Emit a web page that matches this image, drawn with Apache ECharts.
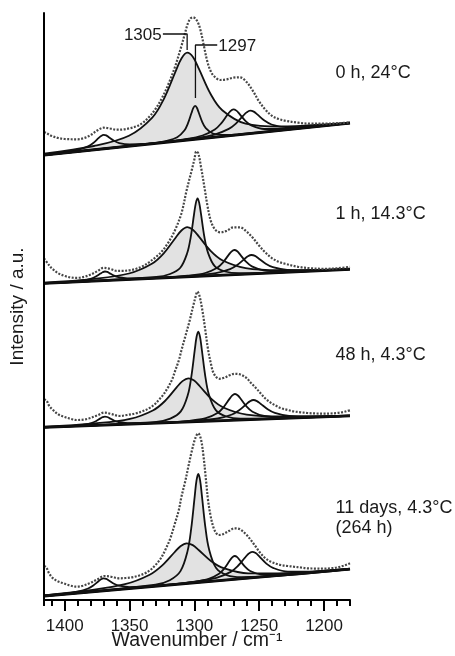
<!DOCTYPE html>
<html><head><meta charset="utf-8">
<script src="https://cdn.jsdelivr.net/npm/echarts@6/dist/echarts.min.js"></script>
<style>html,body{margin:0;padding:0;background:#fff}#c{width:455px;height:656px}</style>
</head><body><div id="c"></div>
<script>
// ---- axis / labels ----
const xMajorTicks = [1200, 1250, 1300, 1350, 1400];
const panelLabels = [['0 h, 24°C'], ['1 h, 14.3°C'], ['48 h, 4.3°C'], ['11 days, 4.3°C', '(264 h)']];
const panelOffsets = [445, 316.7, 172.7, 4];   // vertical stacking offset of each spectrum (a.u.)

// ---- Panel 1 : 0 h, 24 °C ----
const p1Baseline = [[1416,0],[1180,31.8]];
const p1Dotted = [[1416,23],[1414,21.7],[1410,19],[1405,17],[1400,16],[1390,15.7],[1385,17],[1380,20],[1375,24.5],[1370,27.3],[1365,26.5],[1360,25.3],[1355,25.5],[1350,26.7],[1345,28.5],[1340,32],[1335,38],[1330,46],[1325,57],[1320,71],[1315,88],[1310,109],[1307,123],[1305,131.7],[1303,136.5],[1301,137.7],[1299,136],[1297,131.7],[1295,123.3],[1292.5,108],[1290,93.3],[1287.5,84],[1285,79],[1280,75],[1275,75.7],[1270,77.3],[1265,77.7],[1260,73.3],[1255,64.3],[1250,53.3],[1245,45],[1240,39],[1235,36],[1230,34.3],[1220,32.3],[1210,31.3],[1200,31.3],[1190,31.8],[1180,32.5]];
const p1Peak1369 = [[1416,0.3],[1402,2.4],[1390,5.1],[1382,8.7],[1378,12.0],[1374,16.8],[1372,19.0],[1370,20.1],[1368,19.6],[1366,17.8],[1362,14.2],[1358,11.9],[1350,10.5],[1338,11.0],[1322,12.8],[1180,31.8]];
const p1Peak1305 = [[1416,1.3],[1377.5,9.0],[1350.5,19.2],[1332.5,37.4],[1323.5,56.2],[1314.5,83.6],[1310,96.5],[1305.5,102.3],[1301,97.8],[1296.5,86.1],[1287.5,61.0],[1278.5,44.8],[1260.5,31.4],[1233.5,28.5],[1197.5,30.8],[1180,32.7]];
const p1Peak1297 = [[1416,0],[1332.5,11.7],[1321.5,14.2],[1313.25,17.8],[1307.75,24.5],[1305,31.6],[1302.25,42.0],[1300.9,46.9],[1299.5,49.1],[1298.1,47.2],[1296.75,42.7],[1294,33.1],[1291.25,26.8],[1285.75,21.5],[1277.5,20.1],[1266.5,20.6],[1180,31.8]];
const p1Peak1270 = [[1416,0],[1327,12.3],[1308,15.7],[1293.75,19.5],[1284.25,25.5],[1279.5,31.4],[1274.75,39.8],[1272.4,43.7],[1270,45.7],[1267.6,44.4],[1265.25,41.1],[1260.5,33.9],[1255.75,29.4],[1246.25,26.0],[1232,26.0],[1213,27.8],[1180,31.8]];
const p1Peak1257 = [[1416,0],[1323,12.8],[1301,16.5],[1284.5,20.4],[1273.5,26.1],[1268,31.4],[1262.5,39.1],[1259.75,42.6],[1257,44.4],[1254.25,43.4],[1251.5,40.6],[1246,34.4],[1240.5,30.5],[1229.5,27.9],[1213,28.4],[1191,30.7],[1180,31.9]];

// ---- Panel 2 : 1 h, 14.3 °C ----
const p2Baseline = [[1416,0],[1180,14.0]];
const p2Dotted = [[1416,25],[1412,18],[1410,15],[1405,10],[1400,7.3],[1395,5.8],[1390,5.5],[1385,6.5],[1380,8.7],[1375,12],[1370,15.5],[1365,14.5],[1360,12.5],[1355,12.5],[1350,13],[1345,14.5],[1340,17],[1335,21],[1330,26],[1325,32],[1320,41],[1315,53],[1310,70],[1306,93],[1302,113.5],[1300,124],[1298.5,132],[1297,130],[1295,117],[1292,94],[1290,78],[1287.5,63],[1285,55.5],[1282.5,52],[1280,51],[1275,52.5],[1270,56],[1265,56],[1260,52],[1255,45.5],[1250,37.5],[1245,30.5],[1240,25],[1235,21.5],[1230,19.5],[1220,16.5],[1210,15],[1200,14.5],[1190,15],[1180,16.5]];
const p2Peak1369 = [[1416,0.1],[1411,0.4],[1397,1.5],[1386.5,2.8],[1379.5,4.8],[1376,6.8],[1372.5,9.7],[1370.75,11.1],[1369,11.8],[1367.25,11.4],[1365.5,10.2],[1362,7.7],[1358.5,6.1],[1351.5,4.9],[1341,4.8],[1327,5.4],[1180,14.1]];
const p2Peak1305 = [[1416,0.7],[1377.5,4.5],[1350.5,9.8],[1332.5,19.8],[1323.5,30.2],[1314.5,45.6],[1310,52.8],[1305.5,56.1],[1301,53.3],[1296.5,46.7],[1287.5,32.4],[1278.5,23.0],[1260.5,15.2],[1233.5,13.1],[1197.5,13.7],[1180,14.6]];
const p2Peak1297 = [[1416,0],[1329.4,6.3],[1318.8,9.3],[1310.85,15.6],[1305.6,30.0],[1302.9,45.7],[1300.25,69.3],[1298.9,80.2],[1297.6,85.0],[1296.3,80.4],[1294.95,69.6],[1292.3,46.3],[1289.6,30.9],[1284.35,17.2],[1276.4,11.8],[1265.8,10.1],[1180,14.1]];
const p2Peak1269 = [[1416,0],[1323.2,5.9],[1305.2,7.7],[1291.7,10.3],[1282.7,15.3],[1278.2,20.5],[1273.7,28.2],[1271.45,31.7],[1269.2,33.3],[1266.95,32.0],[1264.7,28.7],[1260.2,21.6],[1255.7,16.9],[1246.7,13.0],[1233.2,12.0],[1215.2,12.3],[1180,14.1]];
const p2Peak1256 = [[1416,0],[1322,5.8],[1300,7.7],[1283.5,10.1],[1272.5,14.1],[1267,18.2],[1261.5,24.2],[1258.75,27.0],[1256,28.3],[1253.25,27.4],[1250.5,24.8],[1245,19.6],[1239.5,16.1],[1228.5,13.4],[1212,13.0],[1190,13.7],[1180,14.2]];

// ---- Panel 3 : 48 h, 4.3 °C ----
const p3Baseline = [[1416,0],[1180,11.4]];
const p3Dotted = [[1416,28],[1414,26.7],[1412,21.5],[1409,17.3],[1405,13],[1401,10.7],[1395,8.3],[1391,7.3],[1385,7.8],[1381,9],[1375,11.8],[1369.5,14.7],[1364,13.3],[1358,11.3],[1352,12.3],[1345,14],[1340,16],[1335,19],[1331,22.5],[1327.5,27.3],[1324,32.5],[1320,40.7],[1317,48.5],[1315,56],[1312,67],[1310,77],[1307,91],[1304,105],[1301,121],[1299,131],[1297.7,135.7],[1296,131],[1294,118],[1292,101],[1289.5,78],[1287,62],[1285.5,55],[1283,50],[1281,48.5],[1277,49.5],[1273,52],[1269,53.5],[1265,53],[1260,49.5],[1256.5,44.5],[1252,38.5],[1249,34],[1245,28.5],[1241,24.5],[1237,21.5],[1233.5,19.2],[1228,17.3],[1223.5,15.9],[1218,15],[1213,14.3],[1206,13.8],[1200,13.6],[1195,13.8],[1190,14.3],[1185,15.3],[1181,16.7],[1180,17]];
const p3Peak1369 = [[1416,0.1],[1411,0.3],[1397,1.3],[1386.5,2.4],[1379.5,4.3],[1376,6.1],[1372.5,8.9],[1370.75,10.1],[1369,10.7],[1367.25,10.3],[1365.5,9.2],[1362,6.8],[1358.5,5.3],[1351.5,4.1],[1341,4.0],[1327,4.4],[1180,11.4]];
const p3Peak1305 = [[1416,0.6],[1376.7,3.9],[1349.7,8.4],[1331.7,17.1],[1322.7,26.3],[1313.7,39.9],[1309.2,46.2],[1304.7,49.0],[1300.2,46.7],[1295.7,40.8],[1286.7,28.1],[1277.7,19.8],[1259.7,12.7],[1232.7,10.8],[1196.7,11.2],[1180,11.8]];
const p3Peak1297 = [[1416,0],[1329.4,5.5],[1318.6,8.7],[1310.5,15.9],[1305.1,32.3],[1302.4,50.5],[1299.7,77.6],[1298.35,90.3],[1297,95.7],[1295.65,90.4],[1294.3,77.8],[1291.6,51.0],[1288.9,33.1],[1283.5,17.2],[1275.4,10.8],[1264.6,8.6],[1180,11.4]];
const p3Peak1269 = [[1416,0],[1322.7,4.9],[1304.7,6.5],[1291.2,9.1],[1282.2,14.3],[1277.7,19.8],[1273.2,27.9],[1270.95,31.6],[1268.7,33.3],[1266.45,31.8],[1264.2,28.3],[1259.7,20.6],[1255.2,15.6],[1246.2,11.3],[1232.7,10.0],[1214.7,10.1],[1180,11.4]];
const p3Peak1255 = [[1416,0],[1320.5,4.9],[1298.5,6.5],[1282,8.8],[1271,12.8],[1265.5,17.0],[1260,23.1],[1257.25,25.9],[1254.5,27.3],[1251.75,26.2],[1249,23.6],[1243.5,18.1],[1238,14.4],[1227,11.4],[1210.5,10.8],[1188.5,11.3],[1180,11.7]];

// ---- Panel 4 : 11 days, 4.3 °C (264 h) ----
const p4Baseline = [[1416,0],[1180,26.8]];
const p4Dotted = [[1416,30],[1414.3,28.7],[1412,22.5],[1409,17.7],[1405,14.5],[1401,12.7],[1396,10.5],[1391,9.3],[1386,10.3],[1381,12.7],[1375,16.5],[1369.5,20],[1364,19.2],[1358,17.7],[1353,18],[1348,18.7],[1343,20.3],[1338,22.7],[1334,26],[1330,31],[1326,37.5],[1322.5,46],[1318.5,58],[1315,72.7],[1312,86],[1310,99.3],[1307,115],[1304.7,129.3],[1302,145],[1299.5,157],[1297.1,162.7],[1295,157],[1293,140],[1291,115],[1289.5,96],[1287.5,80],[1285.5,69.3],[1283.5,63.5],[1281.5,61],[1279,61.3],[1276.5,62.7],[1273,65.3],[1269,67.7],[1266.5,67.5],[1264,66],[1260,61.5],[1256.5,56],[1252.5,49],[1249,42.7],[1245,37.5],[1241,34.3],[1237,32.3],[1233.5,31],[1228,30],[1223.5,29.3],[1218,28.5],[1213,27.7],[1206,27.4],[1200,27.3],[1194,27.8],[1189,28.8],[1185,30.3],[1181.5,32],[1180,32.8]];
const p4Peak1370 = [[1416,0.3],[1402,2.0],[1390,4.4],[1382,7.5],[1378,10.5],[1374,14.7],[1372,16.7],[1370,17.6],[1368,17.1],[1366,15.6],[1362,12.3],[1358,10.3],[1350,8.9],[1338,9.3],[1322,10.8],[1180,26.8]];
const p4Peak1306 = [[1416,0.7],[1382,5.6],[1353.5,11.8],[1334.5,21.3],[1325,30.4],[1315.5,43.5],[1310.75,49.8],[1306,52.7],[1301.25,50.9],[1296.5,45.7],[1287,34.7],[1277.5,27.8],[1258.5,22.6],[1230,22.9],[1192,26.0],[1180,27.3]];
const p4Peak1297 = [[1416,0],[1330,11.3],[1319,15.8],[1310.75,24.9],[1305.25,45.1],[1302.5,67.1],[1299.75,99.9],[1298.4,115.3],[1297,122.0],[1295.6,115.6],[1294.25,100.6],[1291.5,68.3],[1288.75,46.9],[1283.25,28.0],[1275,20.9],[1264,18.8],[1180,26.8]];
const p4Peak1269 = [[1416,0],[1317,11.5],[1301,14.1],[1289,17.2],[1281,22.3],[1277,27.4],[1273,34.9],[1271,38.4],[1269,40.0],[1267,38.9],[1265,35.8],[1261,29.3],[1257,25.0],[1249,21.7],[1237,21.3],[1221,22.5],[1180,26.8]];
const p4Peak1255 = [[1416,0],[1321.5,11.1],[1299.5,14.4],[1283,18.2],[1272,24.1],[1266.5,30.0],[1261,38.4],[1258.25,42.3],[1255.5,44.2],[1252.75,42.9],[1250,39.6],[1244.5,32.4],[1239,27.9],[1228,24.4],[1211.5,24.4],[1189.5,26.1],[1180,27.0]];

// ---- annotation leaders (top panel), data coordinates ----
const annot1305 = [[1324.3,566],[1305.6,566],[1305.6,550]];
const annot1297 = [[1282.4,555],[1299.2,555],[1299.2,502]];
const annotTexts = [{text:'1305', at:[1325.2,564.5], align:'right'}, {text:'1297', at:[1281.6,554], align:'left'}];

const panels = [
  {off: panelOffsets[0], base: p1Baseline, dotted: p1Dotted, shaded: [p1Peak1305, p1Peak1297], peaks: [p1Peak1369, p1Peak1305, p1Peak1297, p1Peak1270, p1Peak1257]},
  {off: panelOffsets[1], base: p2Baseline, dotted: p2Dotted, shaded: [p2Peak1305, p2Peak1297], peaks: [p2Peak1369, p2Peak1305, p2Peak1297, p2Peak1269, p2Peak1256]},
  {off: panelOffsets[2], base: p3Baseline, dotted: p3Dotted, shaded: [p3Peak1305, p3Peak1297], peaks: [p3Peak1369, p3Peak1305, p3Peak1297, p3Peak1269, p3Peak1255]},
  {off: panelOffsets[3], base: p4Baseline, dotted: p4Dotted, shaded: [p4Peak1306, p4Peak1297], peaks: [p4Peak1370, p4Peak1306, p4Peak1297, p4Peak1269, p4Peak1255]}
];

const FONT = '"Liberation Sans", Arial, Helvetica, sans-serif';
const TXT = '#1a1a1a';
const shift = (arr, off) => arr.map(p => [p[0], p[1] + off]);

const series = [];
panels.forEach(P => {
  P.shaded.forEach(d => series.push({
    type: 'line', data: shift(d, P.off), smooth: 0.35, showSymbol: false, silent: true,
    lineStyle: {width: 0}, areaStyle: {color: '#e2e2e2', opacity: 1}
  }));
  // white mask below the baseline (hides the shading below it) + thick baseline
  series.push({
    type: 'line', data: shift(P.base, P.off), showSymbol: false, silent: true,
    lineStyle: {color: '#000', width: 2.8}, areaStyle: {color: '#fff', opacity: 1}
  });
  P.peaks.forEach(d => series.push({
    type: 'line', data: shift(d, P.off), smooth: 0.35, showSymbol: false, silent: true,
    lineStyle: {color: '#111', width: 1.8}
  }));
  series.push({
    type: 'line', data: shift(P.dotted, P.off), smooth: 0.35, showSymbol: false, silent: true,
    lineStyle: {color: '#474747', width: 2.2, type: [2, 1.5]}
  });
});
[annot1305, annot1297].forEach(d => series.push({
  type: 'line', data: d, showSymbol: false, silent: true, lineStyle: {color: '#111', width: 1.3}
}));

const graphics = [];
const labelY = [73, 214, 355, 508];
panelLabels.forEach((lines, i) => lines.forEach((t, j) => graphics.push({
  type: 'text', x: 335.5, y: labelY[i] + j * 20, z: 100,
  style: {text: t, fontFamily: FONT, fontSize: 18, fill: TXT, align: 'left', verticalAlign: 'middle'}
})));

const chart = echarts.init(document.getElementById('c'), null, {renderer: 'canvas'});
const option = {
  animation: false,
  backgroundColor: '#fff',
  grid: {left: 41, right: 105, top: 13, bottom: 56},
  xAxis: [
    {type: 'value', min: 1180, max: 1416, interval: 10, inverse: true, z: 10,
     axisLine: {lineStyle: {color: '#000', width: 2}},
     axisTick: {length: 6, lineStyle: {color: '#000', width: 2}},
     axisLabel: {show: false}, splitLine: {show: false},
     name: 'Wavenumber / cm⁻¹', nameLocation: 'middle', nameGap: 31,
     nameTextStyle: {fontFamily: FONT, fontSize: 19.5, color: TXT}},
    {type: 'value', min: 1180, max: 1416, inverse: true, position: 'bottom', z: 10,
     axisLine: {show: false},
     axisTick: {customValues: xMajorTicks, length: 11, lineStyle: {color: '#000', width: 2}},
     axisLabel: {customValues: xMajorTicks, margin: 17.5, fontFamily: FONT, fontSize: 17, color: TXT,
       formatter: v => String(v)},
     splitLine: {show: false}}
  ],
  yAxis: {type: 'value', min: 0, max: 587, z: 10,
    axisLine: {show: true, lineStyle: {color: '#000', width: 2}},
    axisTick: {show: false}, axisLabel: {show: false}, splitLine: {show: false},
    name: 'Intensity / a.u.', nameLocation: 'middle', nameGap: 17, nameRotate: 90,
    nameTextStyle: {fontFamily: FONT, fontSize: 19, color: TXT}},
  graphic: graphics,
  series: series
};
chart.setOption(option);
// annotation numbers, placed from their data coordinates
annotTexts.forEach(a => {
  const p = chart.convertToPixel({gridIndex: 0}, a.at);
  graphics.push({type: 'text', x: p[0], y: p[1], z: 100,
    style: {text: a.text, fontFamily: FONT, fontSize: 17, fill: TXT, align: a.align, verticalAlign: 'middle'}});
});
chart.setOption({graphic: graphics});
</script></body></html>
